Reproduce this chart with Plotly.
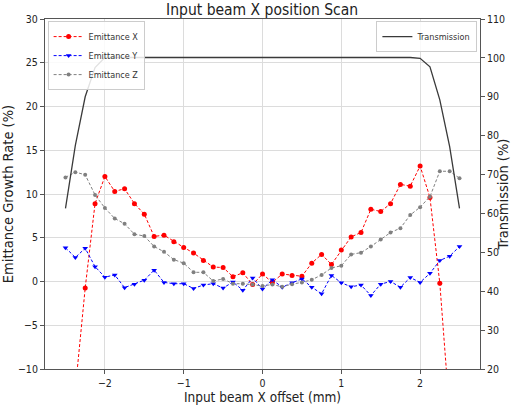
import plotly.graph_objects as go

offset_mm = [-2.5, -2.375, -2.25, -2.125, -2.0, -1.875, -1.75, -1.625, -1.5, -1.375,
             -1.25, -1.125, -1.0, -0.875, -0.75, -0.625, -0.5, -0.375, -0.25, -0.125,
             0.0, 0.125, 0.25, 0.375, 0.5, 0.625, 0.75, 0.875, 1.0, 1.125,
             1.25, 1.375, 1.5, 1.625, 1.75, 1.875, 2.0, 2.125, 2.25, 2.375, 2.5]

emit_x = [-28.0, -12.3, -0.75, 8.9, 12.0, 10.3, 10.6, 8.9, 7.7, 5.15,
          5.3, 4.55, 3.9, 3.25, 2.4, 1.65, 1.6, 0.55, 1.0, -0.35,
          0.85, -0.1, 0.85, 0.7, 0.6, 2.1, 3.1, 1.95, 3.6, 5.1,
          5.6, 8.25, 8.0, 8.9, 11.1, 10.9, 13.2, 9.6, -0.2, -13.3, -30.0]

emit_y = [3.85, 2.75, 3.8, 1.7, 0.5, 0.75, -0.7, -0.3, 0.15, 1.3,
          -0.1, -0.25, -0.25, -0.8, -0.4, -0.25, -0.75, -0.05, -1.0, 0.4,
          -0.85, 0.2, -0.65, -0.15, 0.3, -0.65, -1.4, 0.7, -0.15, -0.6,
          -0.4, -1.6, -0.3, 0.0, -0.65, 0.45, -0.1, 0.93, 2.4, 2.9, 4.0]

emit_z = [11.9, 12.5, 12.2, 9.9, 8.4, 7.2, 6.6, 5.4, 5.2, 4.0,
          3.4, 2.5, 2.1, 1.05, 1.05, 0.05, 0.3, -0.25, -0.25, -0.35,
          -0.5, -0.35, -0.6, -0.3, -0.1, 0.2, 0.75, 1.55, 1.8, 3.1,
          3.3, 4.0, 4.8, 5.6, 6.1, 7.6, 8.5, 9.7, 12.6, 12.6, 11.8]

transmission = [61.3, 77.5, 90.0, 97.5, 100.1, 100.1, 100.1, 100.1, 100.1, 100.1,
                100.1, 100.1, 100.1, 100.1, 100.1, 100.1, 100.1, 100.1, 100.1, 100.1,
                100.1, 100.1, 100.1, 100.1, 100.1, 100.1, 100.1, 100.1, 100.1, 100.1,
                100.1, 100.1, 100.1, 100.1, 100.1, 100.1, 99.9, 97.7, 89.2, 77.2, 61.3]

x_ticks = [-2, -1, 0, 1, 2]
y_ticks = [-10, -5, 0, 5, 10, 15, 20, 25, 30]
y2_ticks = [20, 30, 40, 50, 60, 70, 80, 90, 100, 110]

FONT = "DejaVu Sans Condensed, DejaVu Sans, sans-serif"
TXT = "#222222"

fig = go.Figure()
fig.add_trace(go.Scatter(x=offset_mm, y=emit_x, name="Emittance X", mode="lines+markers",
                         line=dict(color="#ff0000", width=1, dash="3px,2px"),
                         marker=dict(symbol="circle", size=5, color="#ff0000"),
                         legend="legend"))
fig.add_trace(go.Scatter(x=offset_mm, y=emit_y, name="Emittance Y", mode="lines+markers",
                         line=dict(color="#0000ff", width=1, dash="3px,2px"),
                         marker=dict(symbol="triangle-down", size=5, color="#0000ff"),
                         legend="legend"))
fig.add_trace(go.Scatter(x=offset_mm, y=emit_z, name="Emittance Z", mode="lines+markers",
                         line=dict(color="#808080", width=1, dash="3px,2px"),
                         marker=dict(symbol="circle", size=4, color="#808080"),
                         legend="legend"))
fig.add_trace(go.Scatter(x=offset_mm, y=transmission, name="Transmission", mode="lines",
                         line=dict(color="#3a3a3a", width=1.3),
                         yaxis="y2", legend="legend2"))

fig.update_layout(
    width=511, height=405,
    margin=dict(l=45, r=31, t=19, b=36),
    paper_bgcolor="white", plot_bgcolor="white",
    font=dict(family=FONT, color=TXT, size=11),
    title=dict(text="Input beam X position Scan", x=0.513, xanchor="center",
               y=0.976, yanchor="middle", font=dict(size=15.5, family=FONT, color=TXT)),
    xaxis=dict(range=[-2.76, 2.76], tickvals=x_ticks, showgrid=True, gridcolor="#dcdcdc",
               gridwidth=1, zeroline=False, showline=True, linecolor="#555555", linewidth=1,
               mirror=True, ticks="outside", ticklen=4, tickcolor="#555555",
               tickfont=dict(size=10.5, family=FONT, color=TXT), automargin=False,
               title=dict(text="Input beam X offset (mm)", standoff=3,
                          font=dict(size=13.5, family=FONT, color=TXT))),
    yaxis=dict(range=[-10, 30], tickvals=y_ticks, showgrid=True, gridcolor="#dcdcdc",
               gridwidth=1, zeroline=False, showline=True, linecolor="#555555", linewidth=1,
               ticks="outside", ticklen=4, tickcolor="#555555",
               tickfont=dict(size=10.5, family=FONT, color=TXT), automargin=False,
               title=dict(text="Emittance Growth Rate (%)", standoff=6,
                          font=dict(size=14.5, family=FONT, color=TXT))),
    yaxis2=dict(range=[20, 110], tickvals=y2_ticks, overlaying="y", side="right",
                showgrid=False, zeroline=False, showline=True, linecolor="#555555", linewidth=1,
                ticks="outside", ticklen=4, tickcolor="#555555",
                tickfont=dict(size=10.5, family=FONT, color=TXT), automargin=False,
                title=dict(text="Transmission (%)", standoff=2,
                           font=dict(size=14.5, family=FONT, color=TXT))),
    legend=dict(x=0.006, y=0.994, xanchor="left", yanchor="top",
                bgcolor="rgba(255,255,255,0.85)", bordercolor="#cccccc", borderwidth=1,
                font=dict(size=9, family=FONT, color="#333333"),
                tracegroupgap=0, itemwidth=30),
    legend2=dict(x=0.994, y=0.994, xanchor="right", yanchor="top",
                 bgcolor="rgba(255,255,255,0.85)", bordercolor="#cccccc", borderwidth=1,
                 font=dict(size=9, family=FONT, color="#333333"), itemwidth=30),
    showlegend=True,
)

fig.write_html("out.html", config={"displayModeBar": False},
               post_script="document.body.style.margin='0px';document.body.style.overflow='hidden';")
